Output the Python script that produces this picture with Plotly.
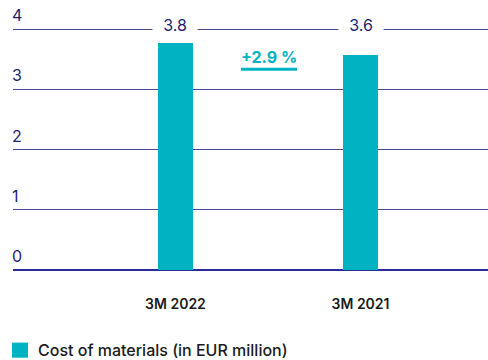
import plotly.graph_objects as go

categories = ["3M 2022", "3M 2021"]
values = [3.77, 3.57]
value_labels = ["3.8", "3.6"]
y_ticks = [0, 1, 2, 3, 4]
change_label = "+2.9 %"
legend_label = "Cost of materials (in EUR million)"

TEAL = "#00b2c2"
NAVY = "#1e1e6e"
FONT = "Inter"
YTOP = 4 + 2 / 60.25

fig = go.Figure()
fig.add_trace(go.Bar(
    x=categories, y=values, width=0.19,
    marker=dict(color=TEAL, line=dict(width=0)),
    name=legend_label, showlegend=False, hoverinfo="skip",
))

# y tick labels above the gridlines
for t in y_ticks:
    fig.add_annotation(
        x=0, y=t, xref="paper", yref="y", text=str(t), showarrow=False,
        xanchor="left", yanchor="bottom", yshift=2, xshift=-3,
        font=dict(family=FONT, size=16, color=NAVY),
    )

for c, lab in zip(categories, value_labels):
    fig.add_annotation(
        x=c, y=y_ticks[-1], xref="x", yref="y", text=lab, showarrow=False,
        font=dict(family=FONT, size=16, color=NAVY),
        bgcolor="white", width=36, borderpad=4,
        yanchor="middle", yshift=4,
    )

# growth label between bars
fig.add_annotation(
    x=0.505, y=3.5, xref="x", yref="y", text=change_label,
    showarrow=False, font=dict(family=FONT, size=16, color=TEAL, weight=700),
    yanchor="middle", yshift=2,
)
fig.add_shape(type="line", xref="x", yref="y", x0=0.354, x1=0.657, y0=3.33, y1=3.33,
              line=dict(color=TEAL, width=3))

# legend (manual)
fig.add_shape(type="rect", xref="paper", yref="paper",
              x0=-0.0021, x1=0.0316, y0=-0.2988, y1=-0.361,
              fillcolor=TEAL, line=dict(width=0))
fig.add_annotation(
    x=0.049, y=-0.33, xref="paper", yref="paper", text=legend_label,
    showarrow=False, xanchor="left", yanchor="middle",
    font=dict(family=FONT, size=16, color="#1a1a1a", weight=500),
)

fig.update_layout(
    width=488, height=360,
    margin=dict(l=13, r=0, t=27, b=90),
    paper_bgcolor="white", plot_bgcolor="white",
    bargap=0,
    xaxis=dict(
        type="category", range=[-0.878, 1.689], showgrid=False, showline=False,
        ticks="outside", ticklen=21, tickcolor="rgba(0,0,0,0)",
        tickfont=dict(family=FONT, size=14, color="#1a1a1a", weight=600),
        fixedrange=True,
    ),
    yaxis=dict(
        range=[0, YTOP], tickvals=y_ticks, showticklabels=False,
        showgrid=True, gridcolor="#4a4a9a", gridwidth=1,
        zeroline=True, zerolinecolor="#2a2a9a", zerolinewidth=1.5, showline=False,
        fixedrange=True,
    ),
)

fig.write_html("out.html")
